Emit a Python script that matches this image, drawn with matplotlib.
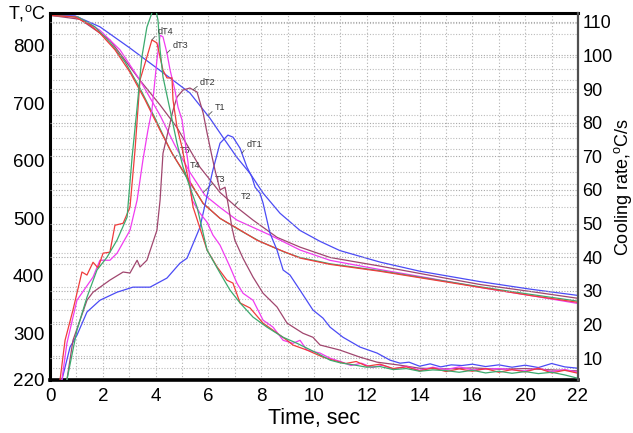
import matplotlib

matplotlib.use("Agg")
import matplotlib.pyplot as plt
import numpy as np
from matplotlib.ticker import MultipleLocator

plt.rcParams["font.family"] = ["Liberation Sans", "DejaVu Sans"]

# x axis: ticks are evenly spaced but the original labels skip 18
X_TICKS = [0, 2, 4, 6, 8, 10, 12, 14, 16, 18, 20]
X_TICK_LABELS = ["0", "2", "4", "6", "8", "10", "12", "14", "16", "20", "22"]
T_TICKS = [220, 300, 400, 500, 600, 700, 800]
RATE_TICKS = [10, 20, 30, 40, 50, 60, 70, 80, 90, 100, 110]

# temperature curves (left axis)
TIME_T1 = [0, 0.95, 1.89, 3.03, 3.79, 4.55, 5.30, 6.06, 6.55, 7.08, 7.58, 8.07, 8.71,
           9.47, 10.23, 10.98, 12.5, 14.02, 16.29, 18.18, 20]
TEMP_T1 = [853, 852, 833, 796, 770, 744, 718, 674, 641, 606, 578, 544, 509,
           479, 460, 444, 424, 408, 390, 377, 366]

TIME_T2 = [0, 1.14, 2.27, 3.41, 4.17, 4.81, 5.68, 6.44, 7.08, 7.69, 8.60, 9.47, 10.61,
           12.5, 14.39, 16.29, 18.18, 20]
TEMP_T2 = [853, 846, 810, 740, 697, 658, 589, 545, 519, 497, 467, 450, 432,
           417, 401, 385, 373, 361]

TIME_T3 = [0, 1.06, 1.89, 2.65, 3.41, 4.17, 4.73, 5.30, 5.87, 6.44, 7.08, 8.33, 9.47,
           10.61, 12.5, 14.39, 16.29, 18.18, 20]
TEMP_T3 = [853, 850, 827, 793, 740, 679, 627, 580, 540, 519, 497, 471, 445,
           427, 411, 396, 380, 366, 352]

TIME_T4 = [0, 0.95, 1.52, 1.89, 2.46, 3.03, 3.60, 4.17, 4.66, 5.19, 5.80, 6.44, 7.08,
           7.84, 8.71, 9.47, 10.61, 12.5, 14.39, 16.29, 18.18, 20]
TEMP_T4 = [853, 850, 836, 822, 793, 754, 706, 653, 610, 572, 526, 500, 483,
           462, 445, 431, 420, 408, 394, 380, 366, 354]

TIME_T5 = [0, 1.06, 1.70, 2.27, 2.84, 3.41, 3.98, 4.55, 5.19, 5.80, 6.44, 7.20, 7.95,
           8.90, 9.47, 10.61, 12.5, 14.39, 16.29, 18.18, 20]
TEMP_T5 = [853, 850, 833, 806, 772, 726, 674, 619, 570, 526, 500, 479, 460,
           441, 432, 421, 409, 395, 381, 368, 356]

# cooling rate curves (right axis)
TIME_DT1 = [0.45, 0.76, 1.02, 1.40, 1.89, 2.54, 3.14, 3.79, 4.43, 4.92, 5.19, 5.68, 6.17,
            6.44, 6.74, 6.93, 7.20, 7.46, 7.65, 7.77, 7.95, 8.07, 8.33, 8.60, 8.83, 9.09,
            9.47, 9.96, 10.34, 10.61, 11.10, 11.74, 12.39, 12.88, 13.26, 13.6, 14.0, 14.4,
            14.8, 15.2, 15.6, 16.0, 16.5, 17.0, 17.5, 18.0, 18.5, 19.0, 19.5, 20]
RATE_DT1 = [3.5, 13.3, 16.8, 23.7, 27.2, 29.6, 31.1, 31.1, 33.8, 38.2, 39.7, 48.9, 65.9,
            73.9, 76.3, 75.7, 72.4, 66.8, 63.8, 60.8, 59.1, 56.1, 47.2, 42.1, 36.2, 34.7,
            30.2, 24.3, 21.9, 19.2, 16.2, 13.3, 11.5, 9.4, 8.5, 8.8, 7.6, 8.3,
            7.4, 8.0, 7.8, 8.2, 7.5, 8.0, 7.3, 7.9, 7.2, 8.4, 7.4, 7.0]

TIME_DT2 = [0.64, 0.87, 1.40, 1.63, 2.27, 2.77, 3.03, 3.30, 3.41, 3.67, 4.05, 4.17, 4.28,
            4.66, 4.81, 5.04, 5.30, 5.57, 5.80, 5.95, 6.14, 6.25, 6.44, 6.63, 6.74, 6.89,
            7.0, 7.31, 7.69, 8.07, 8.60, 8.98, 9.58, 9.96, 10.23, 10.98, 11.74, 12.39,
            13.26, 14.0, 15.0, 16.0, 17.0, 18.0, 19.0, 20]
RATE_DT2 = [3.5, 15.3, 27.2, 29.6, 33.2, 35.6, 35.3, 39.1, 37.1, 39.1, 48.0, 57.0, 70.9,
            83.7, 87.6, 89.7, 90.3, 89.1, 82.9, 76.9, 69.8, 65.9, 60.0, 60.8, 56.1, 48.9,
            45.1, 39.7, 34.1, 29.3, 25.2, 20.4, 17.4, 16.2, 13.9, 12.4, 10.3, 8.8,
            7.9, 7.0, 6.8, 7.1, 6.7, 6.9, 6.5, 6.2]

TIME_DT3 = [0.45, 0.64, 1.02, 1.63, 1.89, 2.27, 2.54, 3.03, 3.30, 3.52, 3.71, 3.86, 4.05,
            4.17, 4.28, 4.43, 4.55, 4.73, 4.85, 5.0, 5.11, 5.23, 5.38, 5.68, 5.95, 6.17,
            6.44, 6.82, 7.08, 7.31, 7.69, 8.07, 8.45, 8.83, 9.20, 9.47, 9.73, 10.23, 10.6,
            11.0, 11.4, 11.8, 12.2, 12.6, 13.0, 13.5, 14.0, 14.5, 15.0, 15.5, 16.0, 17.0,
            18.0, 18.5, 19.0, 19.5, 20]
RATE_DT3 = [3.5, 14.4, 27.2, 34.1, 39.1, 39.1, 41.2, 48.0, 57.0, 68.9, 77.8, 83.7, 98.6,
            106.0, 105.5, 100.7, 95.6, 89.7, 84.6, 80.8, 74.8, 68.0, 57.0, 53.1, 50.4, 46.6,
            43.6, 37.1, 32.3, 29.3, 27.2, 21.3, 19.2, 15.3, 14.4, 15.3, 12.4, 11.5, 10.0,
            9.0, 7.8, 8.5, 7.2, 7.9, 6.8, 7.6, 6.4, 7.3, 6.6, 7.4, 6.5, 6.9,
            6.2, 7.0, 6.0, 6.6, 5.8]

TIME_DT4 = [0.38, 0.57, 0.87, 1.21, 1.40, 1.63, 1.82, 2.01, 2.27, 2.46, 2.77, 3.03, 3.22,
            3.41, 3.67, 3.86, 4.05, 4.28, 4.43, 4.62, 4.66, 4.81, 5.0, 5.11, 5.30, 5.42,
            5.95, 6.33, 6.70, 6.93, 7.20, 7.58, 8.07, 8.45, 8.98, 9.20, 9.73, 10.34, 10.8,
            11.2, 11.6, 12.0, 12.5, 13.0, 13.5, 14.0, 14.5, 15.0, 15.5, 16.0, 16.5, 17.0,
            17.5, 18.0, 18.5, 19.0, 19.5, 20]
RATE_DT4 = [3.5, 15.3, 24.3, 35.6, 34.7, 38.5, 36.8, 41.2, 41.5, 49.5, 50.1, 54.9, 71.8,
            92.7, 99.5, 104.6, 103.7, 95.6, 93.3, 93.3, 86.7, 78.7, 72.7, 68.0, 60.8, 54.9,
            42.1, 37.1, 33.2, 32.3, 26.4, 24.9, 20.4, 18.3, 15.3, 13.9, 12.4, 10.3, 9.2,
            8.4, 9.0, 7.6, 8.2, 6.9, 7.4, 6.2, 7.1, 6.0, 6.8, 6.1, 6.9, 5.8,
            6.6, 5.9, 7.0, 5.6, 6.4, 5.5]

TIME_DT5 = [0.64, 1.02, 1.40, 1.78, 2.16, 2.54, 2.92, 3.11, 3.30, 3.48, 3.67, 3.90, 4.01,
            4.09, 4.17, 4.28, 4.55, 4.81, 5.04, 5.30, 5.57, 5.95, 6.44, 6.82, 7.20, 7.69,
            8.22, 8.83, 9.36, 10.11, 10.61, 11.0, 11.5, 12.0, 12.5, 13.0, 13.5, 14.0, 14.5,
            15.0, 15.5, 16.0, 16.5, 17.0, 17.5, 18.0, 18.5, 19.0, 19.5, 20]
RATE_DT5 = [3.5, 18.3, 28.1, 36.2, 40.0, 45.1, 51.9, 69.8, 84.6, 99.5, 108.4, 113.5, 113.5,
            110.5, 101.6, 93.6, 83.7, 73.9, 66.8, 60.8, 54.9, 42.1, 35.3, 30.2, 26.4, 22.2,
            19.2, 16.2, 14.4, 11.5, 9.4, 8.6, 8.0, 7.3, 7.5, 6.6, 6.9, 6.1, 6.5,
            6.3, 5.8, 6.4, 5.6, 6.1, 5.5, 6.0, 5.4, 5.8, 5.0, 4.0]

BLUE, MAUVE, MAGENTA, RED, GREEN = "#4b4bf5", "#a0466e", "#f03cf0", "#f03c3c", "#3caa6e"

# name: (is rate, times, values, colour)
SERIES = {
    "T1": (False, TIME_T1, TEMP_T1, BLUE),
    "T2": (False, TIME_T2, TEMP_T2, MAUVE),
    "T3": (False, TIME_T3, TEMP_T3, MAGENTA),
    "T5": (False, TIME_T5, TEMP_T5, GREEN),
    "T4": (False, TIME_T4, TEMP_T4, RED),
    "dT1": (True, TIME_DT1, RATE_DT1, BLUE),
    "dT2": (True, TIME_DT2, RATE_DT2, MAUVE),
    "dT3": (True, TIME_DT3, RATE_DT3, MAGENTA),
    "dT4": (True, TIME_DT4, RATE_DT4, RED),
    "dT5": (True, TIME_DT5, RATE_DT5, GREEN),
}

# curve labels: name, time where the leader touches the curve,
# offset (px) of the text's lower-left corner from that point
LABELS = [("T1", 5.98, (7, 4)), ("T2", 7.0, (6, 5)), ("T3", 5.80, (12, 9)),
          ("T4", 5.11, (5, 4)), ("T5", 4.73, (5, 3)), ("dT1", 7.27, (5, 4)),
          ("dT2", 5.42, (7, 3)), ("dT3", 4.43, (6, 3)), ("dT4", 3.86, (6, 4))]


def main():
    fig = plt.figure(figsize=(6.33, 4.33), dpi=100)
    ax = fig.add_axes([50 / 633, 53 / 433, 528 / 633, 367 / 433])
    ax2 = ax.twinx()

    for name, (is_rate, t, v, c) in SERIES.items():
        (ax2 if is_rate else ax).plot(t, v, color=c, lw=0.9)

    ax.set_xlim(0, 20)
    ax.set_ylim(219, 857)
    ax2.set_ylim(3.5, 112.6)
    ax.set_xticks(X_TICKS)
    ax.set_xticklabels(X_TICK_LABELS)
    ax.set_yticks(T_TICKS)
    ax2.set_yticks(RATE_TICKS)

    # dotted grid: vertical each second, left every 20 deg, right every 10 deg/s
    ax.xaxis.set_minor_locator(MultipleLocator(1))
    ax.yaxis.set_minor_locator(MultipleLocator(20))
    ax.grid(True, which="both", axis="x", ls=(0, (1, 2)), color="#b0b0b0", lw=0.8)
    ax.grid(True, which="minor", axis="y", ls=(0, (1, 1.5)), color="#bcbcbc", lw=0.8)
    ax2.grid(True, axis="y", ls=(0, (1, 1.5)), color="#a8a8a8", lw=0.8)

    ax.tick_params(which="both", length=0, labelsize=13.5, pad=4)
    ax.tick_params(axis="x", pad=6)
    ax2.tick_params(which="both", length=0, labelsize=13, pad=3)

    for s in ("left", "bottom", "top"):
        ax2.spines[s].set_visible(False)
    ax.spines["right"].set_visible(False)
    ax.spines["left"].set_linewidth(2.2)
    ax.spines["bottom"].set_linewidth(2.6)
    ax.spines["top"].set_linewidth(2.2)
    ax2.spines["right"].set_linewidth(1.6)
    ax2.spines["right"].set_color("#505050")

    for name, t0, off in LABELS:
        is_rate, t, v, _ = SERIES[name]
        target = ax2 if is_rate else ax
        target.annotate(name, xy=(t0, np.interp(t0, t, v)), xytext=off,
                        textcoords="offset pixels", ha="left", va="bottom",
                        fontsize=6.5, color="#333333",
                        arrowprops=dict(arrowstyle="-", color="#555555", lw=0.6,
                                        relpos=(0, 0.3), shrinkA=0, shrinkB=0))

    ax.set_xlabel("Time, sec", fontsize=15.5, labelpad=2)
    fig.text(27 / 633, 1 - 13 / 433, "T,$^{\\mathregular{o}}$C", fontsize=13,
             ha="center", va="center")
    fig.text(623 / 633, 1 - 187 / 433, "Cooling rate,$^{\\mathregular{o}}$C/s",
             fontsize=13, rotation=90, ha="center", va="center")

    fig.savefig("out.png", dpi=100)


if __name__ == "__main__":
    main()
